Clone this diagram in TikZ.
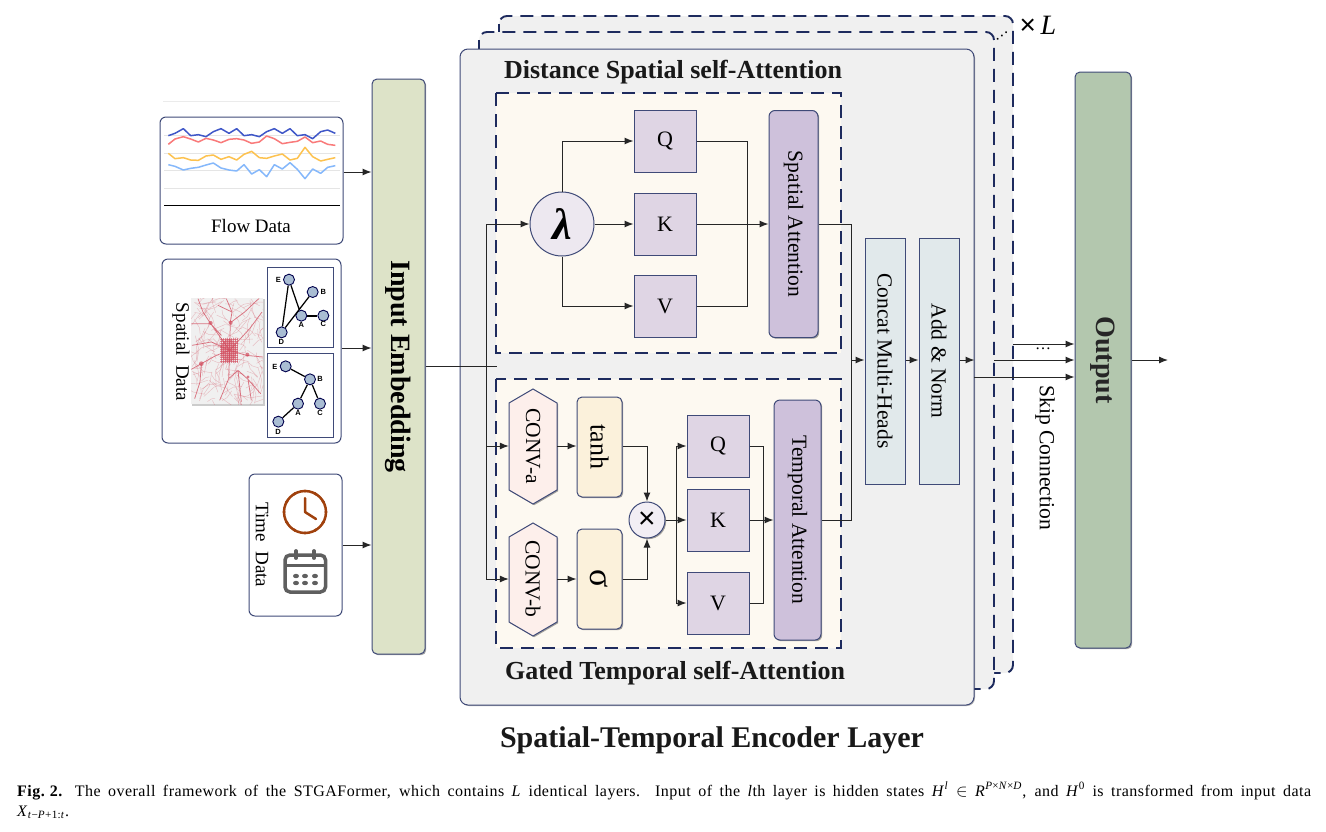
\documentclass[tikz,border=0pt]{standalone}
\usepackage{fontspec}
\setmainfont{Liberation Serif}
\newfontfamily\lsans{Liberation Sans}
\usetikzlibrary{arrows.meta,shadows,calc}
\newcommand\fs[1]{\fontsize{#1pt}{#1pt}\selectfont}
\newcommand\rt[1]{\rotatebox{-90}{#1}}
\definecolor{navy}{HTML}{1E2B5E}
\definecolor{edge}{HTML}{3F4A78}
\definecolor{layer}{HTML}{F0F0F0}
\definecolor{cream}{HTML}{FDF9F1}
\definecolor{purpleA}{HTML}{DFD5E4}
\definecolor{purpleB}{HTML}{CEC1DB}
\definecolor{yell}{HTML}{FBF1DB}
\definecolor{pink}{HTML}{FDEFEB}
\definecolor{teal}{HTML}{E1E9EB}
\definecolor{olive}{HTML}{DDE3C8}
\definecolor{sage}{HTML}{B3C7AE}
\definecolor{gnode}{HTML}{A9BDD3}
\definecolor{clockc}{HTML}{A0410D}
\definecolor{calc}{HTML}{5F5F5F}
\definecolor{road}{HTML}{D24A5C}
\tikzset{
  shad/.style={drop shadow={shadow xshift=1.2pt,shadow yshift=-1.2pt,fill=black,opacity=.35}},
  panel/.style={draw=edge,line width=1pt,rounded corners=6pt,fill=white,inner sep=0pt},
  sq/.style={draw=edge,line width=1pt,fill=purpleA,minimum width=62pt,minimum height=62pt,inner sep=0pt,shad,font=\fs{22}},
  attn/.style={draw=edge,line width=1pt,fill=purpleB,rounded corners=6pt,inner sep=0pt,shad,font=\fs{21.5}},
  gatebox/.style={draw=edge,line width=1pt,fill=yell,rounded corners=5pt,minimum width=45pt,minimum height=100pt,inner sep=0pt,shad},
  hexa/.style={draw=edge,line width=1pt,fill=pink,shad},
  hexlabel/.style={minimum width=48pt,inner sep=0pt,font=\fs{21.5}},
  tall/.style={draw=edge,line width=1pt,rounded corners=5pt,inner sep=0pt,shad,font=\fs{28}\bfseries},
  norm/.style={draw=edge,line width=1pt,fill=teal,minimum width=40pt,minimum height=246pt,inner sep=0pt,shad,font=\fs{21.5}},
  dashbox/.style={draw=navy,line width=1.9pt,dash pattern=on 13pt off 8pt,fill=cream},
  layerdash/.style={draw=navy,line width=1.9pt,dash pattern=on 13pt off 8pt,fill=layer,rounded corners=8pt},
  conn/.style={draw=black!85,line width=1pt},
  arrow/.style={conn,-{Latex[length=9pt,width=7pt]}},
  gn/.style={circle,draw=black!70!blue,line width=.9pt,fill=gnode,minimum size=11pt,inner sep=0pt},
  gl/.style={font=\lsans\fs{7.5}\bfseries,inner sep=0pt},
  ttl/.style={font=\fs{26}\bfseries,text=black!90,inner sep=0pt},
  plain/.style={inner sep=0pt},
  line1/.style={line width=1.5pt,line join=round},
}
\begin{document}
\begin{tikzpicture}[x=1pt,y=-1pt]
\useasboundingbox (0,0) rectangle (1326,831);
\fill[white] (0,0) rectangle (1326,831);

% stacked layers
\path[layerdash] (499,16) rectangle (1013,673);
\path[layerdash] (479,32) rectangle (994,689);
\node[draw=edge,line width=1pt,fill=layer,rounded corners=8pt,minimum width=514pt,minimum height=656pt,inner sep=0pt,drop shadow={shadow xshift=1pt,shadow yshift=-1pt,fill=black,opacity=.3}] (main) at (717,377) {};
\node[plain,font=\fs{16},rotate=38] (ldots) at (1002,36) {…};
\node[plain,font=\fs{28}] (times) at (1038,25) {\lsans×\,\rmfamily\textit{L}};

% flow data
\draw[black!8,line width=.8pt] (163,101) -- (340,101);
\node[panel,minimum width=183pt,minimum height=127pt] (flow) at (251.5,180.5) {};
\begin{scope}[shift={(150,90)},x=1/3*1pt,y=-1/3*1pt]
\foreach \yy in {137,190,242,295}{\draw[black!10,line width=.8pt] (42,\yy) -- (570,\yy);}
\draw[black,line width=.9pt] (42,346) -- (570,346);
\draw[color={rgb,255:red,63;green,87;blue,200},line1] (55,137)--(75,130)--(100,116)--(122,137)--(145,134)--(168,140)--(190,125)--(213,116)--(237,130)--(260,116)--(282,137)--(305,134)--(328,140)--(350,125)--(373,116)--(397,130)--(420,116)--(442,137)--(465,134)--(488,146)--(512,125)--(533,120)--(556,130);
\draw[color={rgb,255:red,249;green,122;blue,122},line1] (55,163)--(75,147)--(100,140)--(122,147)--(145,156)--(168,145)--(190,150)--(213,158)--(237,148)--(260,146)--(282,150)--(305,160)--(328,156)--(350,138)--(373,146)--(397,161)--(420,157)--(442,154)--(465,141)--(488,158)--(512,153)--(533,163)--(556,166);
\draw[color={rgb,255:red,253;green,194;blue,79},line1] (55,190)--(75,206)--(100,203)--(122,210)--(145,211)--(168,198)--(190,195)--(213,208)--(237,200)--(260,210)--(282,193)--(305,184)--(328,203)--(350,205)--(373,198)--(397,192)--(420,210)--(442,205)--(465,172)--(488,200)--(512,213)--(533,208)--(556,203);
\draw[color={rgb,255:red,133;green,184;blue,251},line1] (55,224)--(75,229)--(100,240)--(122,235)--(145,232)--(168,225)--(190,219)--(213,234)--(237,240)--(260,243)--(282,224)--(305,252)--(328,239)--(350,260)--(373,224)--(397,237)--(420,218)--(442,238)--(465,266)--(488,237)--(512,250)--(533,232)--(556,227);
\end{scope}
\node[plain,font=\fs{19}] (flowt) at (251,226) {Flow Data};

% spatial data
\node[panel,minimum width=179pt,minimum height=184pt] (spatial) at (251.5,351) {};
\node[plain,font=\fs{19}] (spt) at (181,352) {\rt{Spatial\ \ Data}};
% map
\fill[black!6] (191,298) rectangle (263,404);
\fill[black!20] (263,299) rectangle (265,406);
\fill[black!20] (192,404) rectangle (265,406);
\begin{scope}
\clip (191,298) rectangle (263,404);
\pgfmathsetseed{4242}
\foreach \k in {1,...,170}{
  \pgfmathsetmacro\ox{191+rnd*72}
  \pgfmathsetmacro\oy{298+rnd*106}
  \pgfmathsetmacro\th{rnd*360}
  \pgfmathsetmacro\dd{5+rnd*10}
  \draw[road,opacity=.3,line width=.45pt] (\ox,\oy) -- ++({\dd*cos(\th)},{\dd*sin(\th)}) -- ++({.7*\dd*cos(\th+25)},{.7*\dd*sin(\th+25)});
}
\begin{scope}[shift={(188,292)},x=1/3*1pt,y=-1/3*1pt]
\draw[road,opacity=.75,line width=.75pt,line join=round]
 (125,175)--(127,90)--(132,60)--(115,20)
 (125,175)--(68,95)--(45,60)--(30,20)
 (68,95)--(10,95)
 (125,175)--(85,190)--(40,215)--(10,232)
 (40,215)--(36,270)--(20,320)
 (125,175)--(175,190)--(225,195)
 (125,175)--(122,260)--(95,325)
 (122,260)--(150,235)--(180,262)--(190,325)
 (180,262)--(218,305)
 (125,175)--(185,110)--(222,60)
 (130,90)--(170,60)--(212,20)
 (132,60)--(90,40)
 (68,95)--(100,130)
 (125,175)--(70,150)--(12,160)
 (150,235)--(160,330);
\fill[road,opacity=.45] (122,175) ellipse (24 and 34);
\foreach \g in {142,148,...,208}{\draw[road,opacity=.6,line width=.55pt] (97,\g)--(150,\g);}
\foreach \g in {100,106,...,148}{\draw[road,opacity=.6,line width=.55pt] (\g,138)--(\g,212);}
\fill[road,opacity=.7] (68,93) circle (6);
\fill[road,opacity=.7] (128,92) circle (6);
\fill[road,opacity=.7] (40,215) circle (7);
\fill[road,opacity=.7] (178,188) circle (6);
\fill[road,opacity=.7] (180,255) circle (5);
\end{scope}
\end{scope}
% graphs
\begin{scope}[shift={(150,90)},x=1/3*1pt,y=-1/3*1pt]
\draw[draw=edge,line width=1pt,fill=white] (352,532) rectangle (550,772);
\draw[draw=edge,line width=1pt,fill=white] (352,790) rectangle (550,1042);
\node[gn] (e1) at (417,569) {};
\node[gn] (b1) at (488,606) {};
\node[gn] (a1) at (454,677) {};
\node[gn] (c1) at (520,677) {};
\node[gn] (d1) at (395,727) {};
\draw[line width=1.25pt] (e1)--(a1) (e1)--(d1) (d1)--(b1);
\draw[line width=1.9pt] (a1)--(c1);
\node[gl] (le1) at (385,569) {E};
\node[gl] (lb1) at (520,606) {B};
\node[gl] (la1) at (454,705) {A};
\node[gl] (lc1) at (520,703) {C};
\node[gl] (ld1) at (394,756) {D};
\node[gn] (e2) at (407,829) {};
\node[gn] (b2) at (480,868) {};
\node[gn] (a2) at (444,941) {};
\node[gn] (c2) at (510,941) {};
\node[gn] (d2) at (385,995) {};
\draw[line width=1.25pt] (e2)--(b2) (b2)--(a2) (b2)--(c2) (a2)--(d2);
\node[gl] (le2) at (375,830) {E};
\node[gl] (lb2) at (510,868) {B};
\node[gl] (la2) at (444,970) {A};
\node[gl] (lc2) at (510,970) {C};
\node[gl] (ld2) at (384,1025) {D};
\end{scope}

% time data
\node[panel,minimum width=93pt,minimum height=142pt] (time) at (295.5,545) {};
\node[plain,font=\fs{19}] (tit) at (262,545) {\rt{Time\ \ Data}};
\draw[clockc,line width=2.5pt] (305,512) circle (21);
\foreach \a in {0,30,...,330}{\fill[clockc] ($(305,512)+(\a:21)$) circle (1.7);}
\draw[clockc,line width=2.5pt,line cap=round,line join=round] (305,498) -- (305,512) -- (316,519);
\draw[calc,line width=3.5pt,rounded corners=5pt] (285,555) rectangle (325.5,592);
\draw[calc,line width=2.6pt] (285,565.5) -- (325.5,565.5);
\draw[calc,line width=3.8pt,line cap=round] (296,551) -- (296,558);
\draw[calc,line width=3.8pt,line cap=round] (314,551) -- (314,558);
\foreach \xx in {296,305,315}{\foreach \yy in {576,583}{\fill[calc] (\xx,\yy) ellipse (3 and 2.2);}}

% embedding + output
\node[tall,fill=olive,minimum width=53pt,minimum height=575pt] (embed) at (398.5,366.5) {\rt{Input Embedding}};
\node[tall,fill=sage,minimum width=56pt,minimum height=576pt,text=black!85] (output) at (1103,360) {\rt{Output}};

% titles
\node[ttl] (t1) at (673,72.5) {Distance Spatial self-Attention};
\node[ttl] (t2) at (675,673) {Gated Temporal self-Attention};
\node[plain,font=\fs{30}\bfseries,text=black!90] (t3) at (712,740) {Spatial-Temporal Encoder Layer};

% dashed inner boxes
\path[dashbox] (496,93) rectangle (841,353);
\path[dashbox] (496,379) rectangle (841,648);

% spatial attention block
\node[circle,draw=edge,line width=1pt,fill=purpleA!55,minimum size=64pt,inner sep=0pt,font=\fs{44}\bfseries\itshape] (lam) at (562,224) {λ};
\node[sq] (q1) at (665,141) {Q};
\node[sq] (k1) at (665,224) {K};
\node[sq] (v1) at (665,306) {V};
\node[attn,minimum width=49pt,minimum height=227pt] (sa) at (793.5,224) {\rt{Spatial Attention}};

% temporal block
\path[hexa] (509,403)--(533,389)--(557,403)--(557,490)--(533,504)--(509,490)--cycle;
\path[hexa] (509,537)--(533,523)--(557,537)--(557,622)--(533,636)--(509,622)--cycle;
\node[hexlabel,minimum height=115pt] (conva) at (533,446) {\rt{CONV-a}};
\node[hexlabel,minimum height=113pt] (convb) at (533,579) {\rt{CONV-b}};
\node[gatebox,font=\fs{26}] (tanh) at (599.5,447) {\rt{tanh}};
\node[gatebox,font=\fs{34}] (sig) at (599.5,579) {\rt{σ}};
\node[circle,draw=edge,line width=1pt,fill=purpleA!40,minimum size=36pt,inner sep=0pt,shad,font=\lsans\fs{30}] (mul) at (647,520) {×};
\node[sq] (q2) at (718,446) {Q};
\node[sq] (k2) at (718,520) {K};
\node[sq] (v2) at (718,603) {V};
\node[attn,minimum width=47pt,minimum height=240pt] (ta) at (797.5,520) {\rt{Temporal Attention}};

% norm blocks
\node[norm] (concat) at (885,361) {\rt{Concat Multi-Heads}};
\node[norm] (addn) at (939,361) {\rt{Add \& Norm}};

% free coordinates
\coordinate (trunk) at (486,366.5);
\coordinate (inend) at (497,366.5);
\coordinate (qjoin) at (747,141);
\coordinate (vjoin) at (747,306);
\coordinate (mergeS) at (851,224);
\coordinate (mergeT) at (851,520);
\coordinate (mid) at (851,360);
\coordinate (branch) at (676,520);
\coordinate (q2j) at (763,446);
\coordinate (v2j) at (763,603);
\coordinate (outEnd) at (1168,360);
\coordinate (s1) at (1013,344);
\coordinate (s2) at (994,360);
\coordinate (s3) at (974,377);

% connectors: inputs
\draw[arrow] (flow.east |- 0,172) -- (embed.west |- 0,172);
\draw[arrow] (spatial.east |- 0,348) -- (embed.west |- 0,348);
\draw[arrow] (time.east |- 0,545) -- (embed.west |- 0,545);
\draw[conn] (embed.east |- inend) -- (inend);
\draw[arrow] (trunk) |- (lam.west);
\draw[arrow] (trunk) |- (conva.west);
\draw[arrow] (trunk) |- (convb.west);
% spatial
\draw[arrow] (lam.north) |- (q1.west);
\draw[arrow] (lam.east) -- (k1.west);
\draw[arrow] (lam.south) |- (v1.west);
\draw[conn] (q1.east) -- (qjoin) -- (vjoin) -- (v1.east);
\draw[arrow] (k1.east) -- (sa.west);
\draw[conn] (sa.east) -- (mergeS) -- (mergeT) -- (ta.east);
% temporal
\draw[arrow] (conva.east) -- (tanh.west |- conva.east);
\draw[arrow] (convb.east) -- (sig.west |- convb.east);
\draw[arrow] (tanh.east |- 0,446) -| (mul.north);
\draw[arrow] (sig.east) -| (mul.south);
\draw[arrow] (mul.east) -- (k2.west);
\draw[arrow] (branch) |- (q2.west);
\draw[arrow] (branch) |- (v2.west);
\draw[conn] (q2.east) -- (q2j) -- (v2j) -- (v2.east);
\draw[arrow] (k2.east) -- (ta.west);
% right side
\draw[arrow] (mid) -- (concat.west |- mid);
\draw[arrow] (concat.east |- mid) -- (addn.west |- mid);
\draw[arrow] (addn.east |- mid) -- (main.east |- mid);
\draw[arrow] (s1) -- (output.west |- s1);
\draw[arrow] (s2) -- (output.west |- s2);
\draw[arrow] (s3) -- (output.west |- s3);
\draw[arrow] (output.east) -- (outEnd);
\node[plain,font=\fs{16}] (odots) at (1043,349) {…};
\node[plain,font=\fs{21.6}] (skip) at (1045,457.5) {\rt{Skip Connection}};

% caption
\node[anchor=north west,inner sep=0pt,align=left,font=\fs{16}\addfontfeature{LetterSpace=3}] (cap) at (17,782) {\makebox[1294pt][s]{\textbf{Fig.\hbox to 5pt{}2.}\hbox to 12pt{}The overall framework of the STGAFormer, which contains \textit{L} identical layers. Input of the \textit{l}th layer is hidden states \textit{H}\textsuperscript{\textit{l}} $\in$ \textit{R}\textsuperscript{\textit{P}×\textit{N}×\textit{D}}, and \textit{H}\textsuperscript{0} is transformed from input data}\\[4pt]\textit{X}\textsubscript{\textit{t}−\textit{P}+1:\textit{t}}.};
\end{tikzpicture}
\end{document}
